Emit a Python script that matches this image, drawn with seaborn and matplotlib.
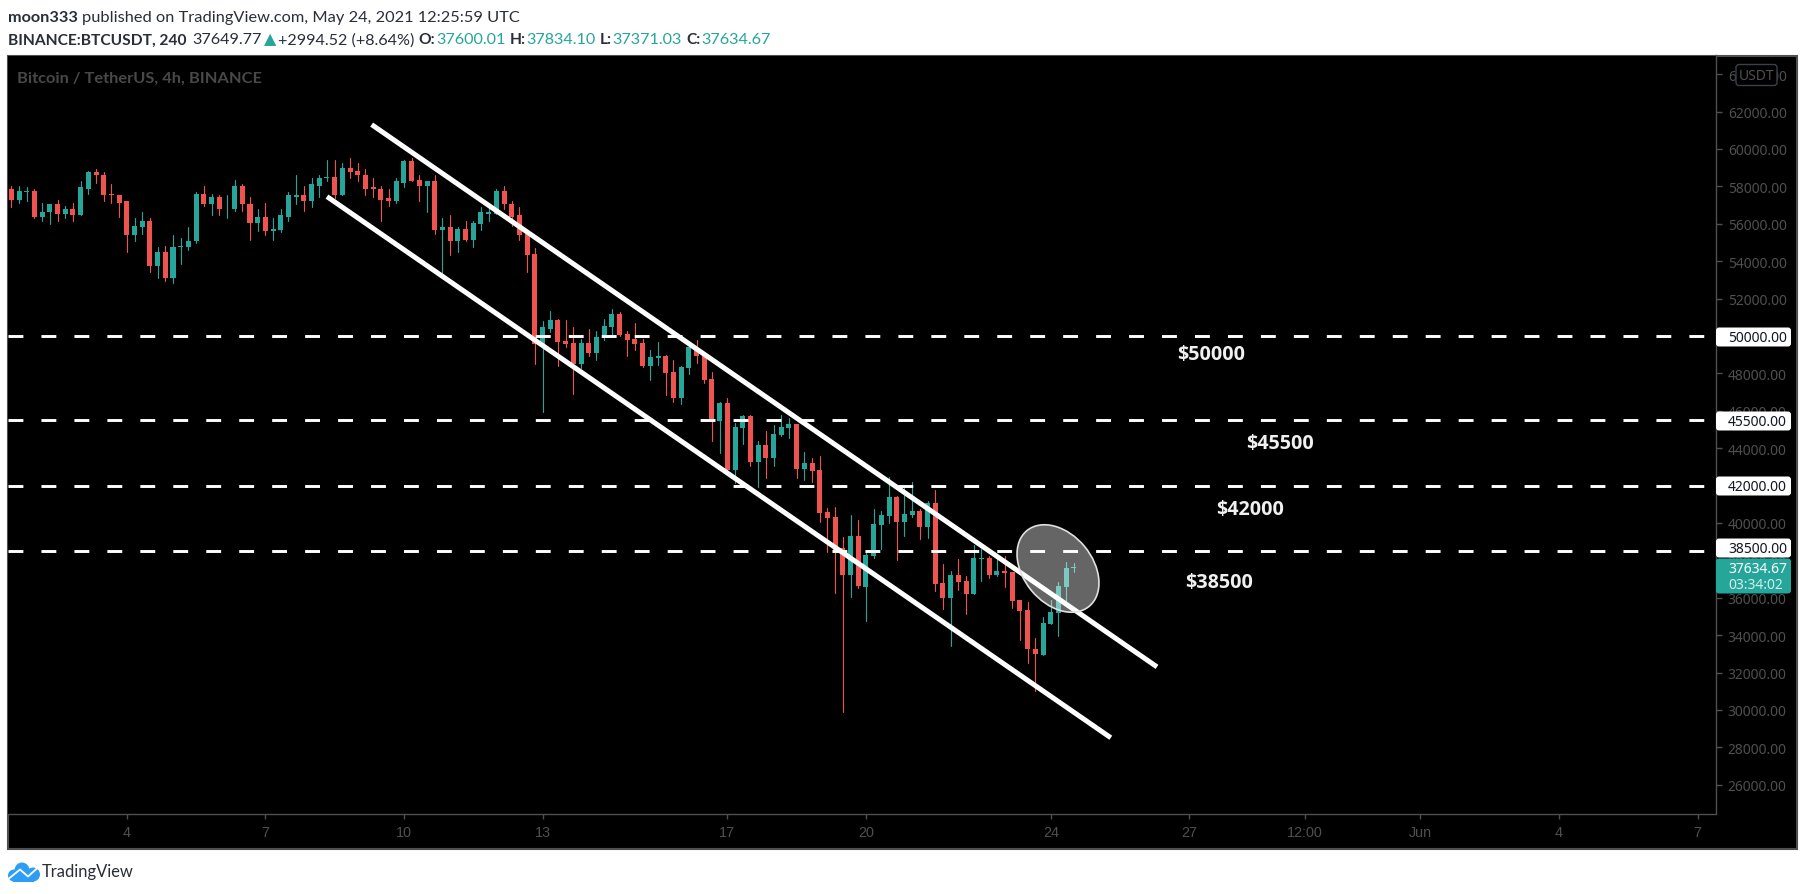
import numpy as np
import pandas as pd
import seaborn as sns
import matplotlib
matplotlib.use("Agg")
import matplotlib.pyplot as plt
from matplotlib.patches import Ellipse, FancyBboxPatch, Rectangle
from matplotlib.transforms import Affine2D

# BTCUSDT 4h candles
opens = [57830, 57290, 57720, 57770, 56380, 56600, 57080, 56540, 56810, 56490,
         57880, 58790, 58630, 57610, 57560, 57190, 55370, 55850, 56120, 53760,
         54510, 53120, 54730, 54780, 55050, 57610, 57080, 57450, 56760, 56760,
         57990, 57080, 56060, 56380, 55630, 55690, 56380, 57450, 57560, 57240,
         58040, 58420, 58520, 57560, 59000, 58840, 58630, 57940, 57880, 57350,
         57190, 58200, 59330, 58360, 57990, 58310, 55690, 55800, 55100, 55740,
         55150, 56010, 56540, 56530, 57770, 57080, 56440, 55460, 54400, 49570,
         50390, 50870, 49750, 49640, 48520, 49640, 49110, 49910, 50500, 51190,
         50120, 49860, 49640, 48410, 48840, 48950, 48090, 46700, 48310, 49220,
         48950, 47720, 45470, 46430, 42850, 45100, 45740, 43280, 44190, 43490,
         44720, 45100, 45310, 42900, 43220, 42850, 40600, 40330, 38680, 37230,
         39320, 36590, 38250, 39910, 40390, 41400, 40070, 40440, 40650, 39800,
         41080, 36800, 36000, 37230, 36910, 36220, 38090, 38140, 37230, 37450,
         37390, 35890, 35360, 33270, 32950, 34610, 35200, 36590, 37600]
closes = [57290, 57770, 57770, 56380, 56650, 57080, 56540, 56810, 56490, 57940,
          58790, 58580, 57560, 57510, 57130, 55370, 55900, 56120, 53760, 54510,
          53120, 54780, 54830, 55100, 57610, 57080, 57450, 56760, 56810, 57990,
          57030, 56060, 56380, 55630, 55740, 56440, 57510, 57560, 57240, 58100,
          58470, 58520, 57560, 59000, 58790, 58580, 57880, 57830, 57290, 57190,
          58260, 59330, 58310, 57990, 58310, 55690, 55800, 55100, 55740, 55150,
          56060, 56600, 56650, 57770, 57030, 56380, 55420, 54350, 49590, 50450,
          50870, 49700, 49590, 48520, 49640, 49110, 49960, 50550, 51190, 50070,
          49800, 49590, 48410, 48890, 48950, 48040, 46700, 48360, 49380, 48950,
          47660, 45520, 46430, 42850, 45150, 45740, 43280, 44190, 43490, 44780,
          45150, 45310, 42900, 43220, 42790, 40550, 40280, 38520, 37230, 39320,
          36640, 38300, 39960, 40440, 41400, 40070, 40490, 40650, 39800, 41080,
          36750, 36000, 37230, 36860, 36220, 38140, 38140, 37230, 37450, 37340,
          35840, 35310, 33270, 33010, 34660, 35250, 36640, 37610, 37630]
highs = [58040, 57990, 57940, 57880, 57130, 57080, 57290, 56970, 57130, 58260,
         58840, 58950, 58740, 58150, 57560, 57190, 56330, 56650, 56330, 54730,
         54830, 55420, 55260, 55800, 57720, 58040, 57610, 57560, 57560, 58360,
         58100, 57450, 56810, 57130, 56280, 56760, 57670, 58630, 58040, 58420,
         58580, 59380, 59430, 59270, 59490, 59270, 58950, 58420, 57990, 57880,
         58420, 59430, 59490, 58580, 58310, 58580, 56280, 56440, 55850, 56170,
         56170, 56870, 56970, 57880, 57990, 57190, 56920, 55630, 54720, 50820,
         51350, 50930, 50870, 50450, 49860, 50390, 50280, 50930, 51460, 51300,
         50280, 50710, 49860, 49270, 49700, 49000, 48730, 48410, 49480, 49800,
         48950, 48090, 46490, 46700, 45360, 45790, 45790, 44400, 44940, 45260,
         45790, 45630, 45310, 43810, 43490, 43600, 40820, 40870, 39260, 40440,
         40170, 38570, 40760, 40650, 42440, 41460, 41900, 42210, 40760, 41190,
         41780, 37820, 37450, 38090, 37180, 38840, 38620, 38250, 38090, 38250,
         37390, 35890, 35790, 33860, 34990, 35890, 36860, 37930, 37830]
lows = [56920, 57130, 57190, 56280, 56120, 55960, 56170, 56280, 56170, 56440,
        57610, 58200, 57190, 57130, 56380, 54510, 55050, 55470, 53440, 53120,
        52960, 52850, 53870, 54620, 54990, 56970, 56490, 56490, 56280, 56700,
        56700, 55150, 55630, 55420, 55150, 55530, 56170, 57080, 56700, 56870,
        57450, 58260, 57400, 57510, 58420, 58260, 57510, 57450, 56170, 56970,
        57130, 57940, 58310, 57240, 56650, 55470, 53340, 54300, 54510, 55050,
        54730, 55690, 56120, 56530, 56810, 55900, 55150, 53440, 48520, 45950,
        50230, 48410, 49380, 46910, 48310, 48950, 48730, 49800, 50020, 50020,
        48950, 49220, 48360, 47660, 48470, 46860, 46490, 46380, 47980, 48570,
        47500, 44400, 43760, 42800, 42150, 44240, 43060, 41940, 42420, 43060,
        44670, 44560, 42420, 42310, 42210, 40070, 38460, 36270, 29900, 36050,
        36540, 34770, 38140, 38620, 40010, 38030, 39320, 40330, 39160, 39210,
        36380, 35410, 33430, 36430, 35150, 36220, 36910, 37070, 37180, 36590,
        35470, 33760, 32520, 31030, 32950, 34610, 33970, 35840, 37370]

levels = [50000, 45500, 42000, 38500]
level_labels = ["$50000", "$45500", "$42000", "$38500"]
date_ticks = [15, 33, 51, 69, 93, 111, 135, 153, 168, 183, 201, 219]
date_labels = ["4", "7", "10", "13", "17", "20", "24", "27", "12:00", "Jun", "4", "7"]
price_ticks = list(range(26000, 66000, 2000))
upper_x, upper_y = [46.8, 148.8], [61300, 32300]
lower_x, lower_y = [41.0, 142.8], [57450, 28510]

TEAL = "#26a69a"
RED = "#ef5350"
GREY = "#4f4f4f"
W, H = 1805, 895
FONT = ["Lato", "DejaVu Sans"]
SHIFT = 1.5  # everything sits a bit lower than first measured

sns.set_theme(style="dark")
plt.rcParams["font.family"] = FONT

df = pd.DataFrame({"bar": range(len(opens)), "open": opens, "close": closes,
                   "high": highs, "low": lows})
df["up"] = df["close"] >= df["open"]
df["bottom"] = df[["open", "close"]].min(axis=1)
df["body"] = (df["close"] - df["open"]).abs().clip(lower=50)

fig = plt.figure(figsize=(W / 100, H / 100), dpi=100, facecolor="white")
ax = fig.add_axes([8 / W, 1 - (813 + SHIFT) / H, (1716 - 8) / W, (813 - 55) / H], facecolor="black")

# pixel positions from the top left corner, for everything around the plot
px = Affine2D().scale(1, -1).translate(0, H - SHIFT)

fig.add_artist(Rectangle((8, 55), 1789, 793, transform=px, facecolor="black",
                         edgecolor=GREY, linewidth=1.5, zorder=-1))

# wicks
wicks = df.melt(id_vars=["bar", "up"], value_vars=["high", "low"], value_name="price")
sns.lineplot(data=wicks, x="bar", y="price", hue="up", units="bar", estimator=None,
             palette={True: TEAL, False: RED}, linewidth=0.8, legend=False, sort=False, ax=ax)

# bodies
for is_up, color in [(True, TEAL), (False, RED)]:
    part = df[df["up"] == is_up]
    sns.barplot(data=part, x="bar", y="body", bottom=part["bottom"].values, native_scale=True,
                color=color, saturation=1, width=0.65, errorbar=None, linewidth=0, ax=ax)

# channel and levels
for xs, ys in [(upper_x, upper_y), (lower_x, lower_y)]:
    ax.plot(xs, ys, color="white", linewidth=3.6, solid_capstyle="butt", zorder=4)
for level in levels:
    ax.axhline(level, color="white", linewidth=2.1, linestyle=(0, (5.1, 6.2)),
               dash_capstyle="butt", zorder=4)

ax.set_xlim(-0.43, 221.4)
ax.set_ylim(24460, 64995)
ax.set_xlabel("")
ax.set_ylabel("")
ax.grid(False)
ax.yaxis.tick_right()
ax.set_yticks(price_ticks)
ax.set_yticklabels([f"{p:.2f}" for p in price_ticks], family="Noto Sans", fontsize=10, color=GREY)
ax.set_xticks(date_ticks)
ax.set_xticklabels(date_labels, family="Liberation Sans", fontsize=10.4, color=GREY)
ax.tick_params(axis="y", length=4, width=1, color=GREY, pad=4.5, right=True, left=False)
ax.tick_params(axis="x", length=3.5, width=1, color=GREY, pad=5, bottom=True)
for side in ["top", "left"]:
    ax.spines[side].set_visible(False)
for side in ["right", "bottom"]:
    ax.spines[side].set_color(GREY)
    ax.spines[side].set_linewidth(1)


def put(x, y, s, **kw):
    kw.setdefault("va", "center")
    kw.setdefault("clip_on", False)
    kw.setdefault("zorder", 12)
    t = ax.text(x, y, s, transform=px, **kw)
    return t.get_window_extent(fig.canvas.get_renderer()).x1


def label_box(x0, y0, x1, y1, color, edge="none"):
    ax.add_patch(FancyBboxPatch((x0 + 2, y0 + 2), x1 - x0 - 4, y1 - y0 - 4,
                                boxstyle="round,pad=2,rounding_size=3", transform=px,
                                facecolor=color, edgecolor=edge, linewidth=1,
                                clip_on=False, zorder=11))


# highlighted ellipse
ax.add_patch(Ellipse((1058, 568), 98, 69, angle=50.6, transform=px, facecolor="white",
                     edgecolor="white", alpha=0.4, linewidth=0, zorder=6, clip_on=False))
ax.add_patch(Ellipse((1058, 568), 98, 69, angle=50.6, transform=px, facecolor="none",
                     edgecolor="#e0e0e0", linewidth=1.2, zorder=6, clip_on=False))

# text next to the levels
for s, x, y in zip(level_labels, [1177, 1246, 1216, 1185], [354, 443, 509, 582]):
    put(x, y, s, color="#f0f0f0", family="Open Sans", weight="bold", fontsize=14.2)

# price scale labels
for level, y0 in zip(levels, [327, 411, 476, 538]):
    label_box(1716, y0, 1791, y0 + 19, "white")
    put(1728, y0 + 10, f"{level:.2f}", color="#131722", family="Noto Sans", fontsize=10)
label_box(1716, 558, 1791, 593, TEAL)
put(1728, 568, "37634.67", color="white", family="Noto Sans", weight="bold", fontsize=10)
put(1728, 584, "03:34:02", color="#d0eeeb", family="Noto Sans", fontsize=10)
label_box(1736, 64, 1777, 85, "black", edge="#3a3f4a")
put(1756.5, 75, "USDT", color=GREY, family="Noto Sans", fontsize=10, ha="center")

put(17, 77, "Bitcoin / TetherUS, 4h, BINANCE", color="#484848", weight="bold", fontsize=11.8)

# header
DARK = "#2a2e39"
x = put(8, 17, "moon333", color=DARK, weight="bold", fontsize=11.7)
put(x + 4, 17, "published on TradingView.com, May 24, 2021 12:25:59 UTC", color=DARK, fontsize=11.8)
x = put(8, 39, "BINANCE:BTCUSDT, 240", color=DARK, weight="bold", fontsize=11.2)
x = put(x + 6, 39, "37649.77", color=DARK, fontsize=11.6)
x = put(x + 2, 38, "\u25b2", color=TEAL, family="DejaVu Sans", fontsize=11.5)
x = put(x + 2, 39, "+2994.52 (+8.64%)", color=DARK, fontsize=11.6)
for name, value in [("O:", "37600.01"), ("H:", "37834.10"), ("L:", "37371.03"), ("C:", "37634.67")]:
    x = put(x + 4, 39, name, color=DARK, weight="bold", fontsize=11.2)
    x = put(x + 1, 39, value, color=TEAL, fontsize=11.6)

# footer logo
BLUE = "#2e9ef4"
for cx, cy, w, h in [(14, 875, 12, 12), (22, 870, 15, 16), (33, 874, 14, 14)]:
    ax.add_patch(Ellipse((cx, cy), w, h, transform=px, facecolor=BLUE, linewidth=0,
                         clip_on=False, zorder=11))
ax.add_patch(Rectangle((13, 874), 21, 7, transform=px, facecolor=BLUE, linewidth=0,
                       clip_on=False, zorder=11))
ax.plot([9, 20, 28, 38], [878, 869, 876, 867], transform=px, color="white", linewidth=1.3,
        clip_on=False, zorder=12)
put(42, 871, "TradingView", color="#2a2e39", fontsize=11.9)

fig.savefig("out.png", dpi=100, facecolor="white")
